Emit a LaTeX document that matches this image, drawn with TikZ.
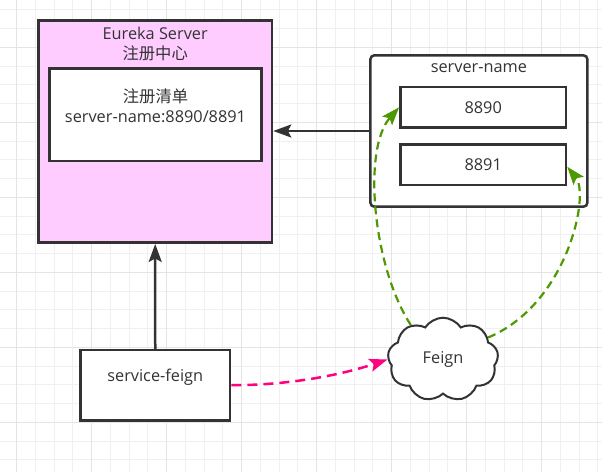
\documentclass[tikz,border=0pt]{standalone}
\usepackage{fontspec}
\setmainfont{Open Sans}
\newfontfamily\cjk{Noto Sans CJK SC}
\usepackage{xcolor}
\usepackage{tikz}
\usetikzlibrary{arrows.meta}
\usetikzlibrary{shapes.symbols}
\usetikzlibrary{positioning}

\definecolor{ink}{HTML}{333333}
\definecolor{regpink}{HTML}{FFCCFF}
\definecolor{callpink}{HTML}{FF0080}
\definecolor{lbgreen}{HTML}{4D9900}
\definecolor{gridminor}{HTML}{F0F0F0}
\definecolor{gridmajor}{HTML}{E4E4E4}

\begin{document}
\begin{tikzpicture}[x=1pt,y=-1pt,>={Stealth[length=18pt,width=13pt,inset=3.5pt]},line width=2.5pt,font=\fontsize{16.3}{20}\selectfont]
  \tikzstyle{box}=[draw=ink, line width=2.5pt, fill=white, inner sep=0pt, text=ink]
  \tikzstyle{txt}=[inner sep=0pt, align=center, text=ink]
  \tikzstyle{call}=[->, line width=2.5pt, dash pattern=on 10pt off 6pt]
  \useasboundingbox (0,0) rectangle (602,472);
  \fill[white] (0,0) rectangle (602,472);
  % grid
  \foreach \i in {0,...,31}
    \draw[gridminor, line width=1pt] (16.7+18.75*\i,0) -- ++(0,472);
  \foreach \j in {0,...,24}
    \draw[gridminor, line width=1pt] (0,9.8+18.75*\j) -- ++(602,0);
  \foreach \i in {0,...,7}
    \draw[gridmajor, line width=1.3pt] (16.7+75*\i,0) -- ++(0,472);
  \foreach \j in {0,...,5}
    \draw[gridmajor, line width=1.3pt] (0,47.3+75*\j) -- ++(602,0);

  % eureka server
  \node[box, fill=regpink, minimum width=233.7pt, minimum height=222.4pt] (eureka) at (155.2,131.5) {};
  \node[txt, anchor=north] (eurekatitle) at ([yshift=-7pt]eureka.north) {Eureka Server\\{\cjk 注册中心}};
  \node[box, minimum width=211.8pt, minimum height=92.4pt] (reglist) at (155.5,114.8) {};
  \node[txt, anchor=north] (reglisttxt) at ([yshift=-20pt]reglist.north) {{\cjk 注册清单}\\server-name:8890/8891};

  % provider
  \node[box, rounded corners=4pt, minimum width=217pt, minimum height=151.4pt] (srvname) at (478.9,131) {};
  \node[txt, anchor=base] (srvlabel) at ([yshift=-18pt]srvname.north) {server-name};
  \node[box, minimum width=165.7pt, minimum height=40.7pt] (s8890) at (483.2,107.3) {8890};
  \node[box, minimum width=165.7pt, minimum height=40.7pt, below=14.3pt of s8890] (s8891) {8891};

  % consumer
  \node[box, minimum width=149.9pt, minimum height=70.4pt] (sfeign) at (155.25,385.2) {};
  \node[txt, anchor=base] (sfeigntxt) at ([yshift=-33pt]sfeign.north) {service-feign};
  \node[cloud, cloud puffs=9, cloud puff arc=115, cloud ignores aspect, draw=ink, line width=2pt, fill=white, text=ink,
        minimum width=110.6pt, minimum height=83.6pt, inner sep=0pt] (feign) at (443,359.5) {Feign};

  \draw[->, ink] (sfeign.north) -- (eureka.south);
  \draw[->, ink] (srvname.west) -- (srvname.west -| eureka.east);
  \draw[call, callpink] (sfeign.east) .. controls +(68,0) and +(-36,12) .. (feign.west);
  \draw[call, lbgreen, line width=2.2pt, dash pattern=on 8pt off 5pt]
    (feign.133) .. controls +(-38,-58) and +(-37,42) .. (s8890.west);
  \draw[call, lbgreen, line width=2.2pt, dash pattern=on 8pt off 5pt]
    (feign.26) .. controls +(79,-33) and +(22.7,28.3) .. ([yshift=-2pt]s8891.east);
\end{tikzpicture}
\end{document}
